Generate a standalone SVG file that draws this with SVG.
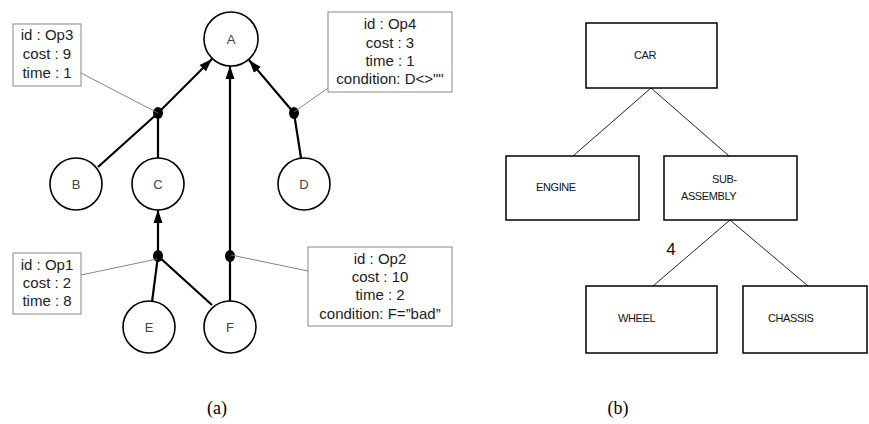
<svg xmlns="http://www.w3.org/2000/svg" width="869" height="424" viewBox="0 0 869 424">
<defs>
<marker id="arr" markerUnits="userSpaceOnUse" markerWidth="14" markerHeight="10" refX="13" refY="5" orient="auto">
<path d="M0,0.5 L13,5 L0,9.5 z" fill="#000"/>
</marker>
<style>
.node circle{fill:#fff;stroke:#000;stroke-width:1.6}
.node text{font-family:"Liberation Sans",Arial,sans-serif;font-size:13px;fill:#444;text-anchor:middle}
.edge{stroke:#000;stroke-width:2.2;fill:none}
.arrow{marker-end:url(#arr)}
.dot{fill:#000}
.note rect{fill:#fff;stroke:#888;stroke-width:1}
.note text{font-family:"Liberation Sans",Arial,sans-serif;font-size:15px;fill:#222;text-anchor:middle}
.tie{stroke:#777;stroke-width:0.9;fill:none}
.box rect{fill:#fff;stroke:#000;stroke-width:1.5}
.box text{font-family:"Liberation Sans",Arial,sans-serif;font-size:11px;fill:#111;letter-spacing:-0.4px}
.thin{stroke:#222;stroke-width:1;fill:none}
.cap{font-family:"Liberation Serif","Times New Roman",serif;font-size:18px;fill:#000;text-anchor:middle}
</style>
</defs>
<rect width="869" height="424" fill="#fff"/>

<g id="connectors">
<line class="edge arrow" x1="158" y1="113" x2="212" y2="59"/>
<line class="edge" x1="98" y1="167" x2="158" y2="113"/>
<line class="edge" x1="158" y1="158" x2="158" y2="113"/>
<line class="edge arrow" x1="294" y1="113" x2="249" y2="60"/>
<line class="edge" x1="301" y1="158" x2="294" y2="113"/>
<line class="edge arrow" x1="230" y1="301" x2="230" y2="66"/>
<line class="edge arrow" x1="158" y1="256" x2="158" y2="210"/>
<line class="edge" x1="152" y1="302" x2="158" y2="256"/>
<line class="edge" x1="212" y1="305" x2="158" y2="256"/>
<ellipse class="dot" cx="158" cy="113" rx="5" ry="6"/>
<ellipse class="dot" cx="294" cy="113" rx="5" ry="6"/>
<ellipse class="dot" cx="158" cy="256" rx="5" ry="6"/>
<ellipse class="dot" cx="230" cy="256" rx="5" ry="6"/>
<line class="tie" x1="81" y1="73" x2="158" y2="113"/>
<line class="tie" x1="328" y1="88" x2="294" y2="112"/>
<line class="tie" x1="81" y1="275" x2="157" y2="259"/>
<line class="tie" x1="308" y1="271" x2="231" y2="255"/>
<line class="thin" x1="651" y1="88" x2="573" y2="156"/>
<line class="thin" x1="651" y1="88" x2="729" y2="156"/>
<line class="thin" x1="730" y1="220" x2="653" y2="286"/>
<line class="thin" x1="730" y1="220" x2="808" y2="286"/>
</g>

<g id="A" class="node"><circle cx="231" cy="39" r="27"/><text x="231" y="44">A</text></g>
<g id="B" class="node"><circle cx="76" cy="184" r="26"/><text x="76" y="189">B</text></g>
<g id="C" class="node"><circle cx="158" cy="184" r="26"/><text x="158" y="189">C</text></g>
<g id="D" class="node"><circle cx="304" cy="184" r="26"/><text x="304" y="189">D</text></g>
<g id="E" class="node"><circle cx="149" cy="327" r="26"/><text x="149" y="332">E</text></g>
<g id="F" class="node"><circle cx="230" cy="327" r="26"/><text x="230" y="332">F</text></g>

<g id="Op3" class="note"><rect x="13" y="24" width="68" height="62"/>
<text x="47" y="40">id : Op3</text><text x="47" y="59">cost : 9</text><text x="47" y="78">time : 1</text></g>
<g id="Op4" class="note"><rect x="328" y="12" width="124" height="80"/>
<text x="390" y="29">id : Op4</text><text x="390" y="48">cost : 3</text><text x="390" y="66">time : 1</text><text x="390" y="84">condition: D&lt;&gt;""</text></g>
<g id="Op1" class="note"><rect x="13" y="253" width="68" height="61"/>
<text x="47" y="270">id : Op1</text><text x="47" y="288">cost : 2</text><text x="47" y="306">time : 8</text></g>
<g id="Op2" class="note"><rect x="308" y="247" width="144" height="79"/>
<text x="380" y="264">id : Op2</text><text x="380" y="282">cost : 10</text><text x="380" y="300">time : 2</text><text x="380" y="319">condition: F=”bad”</text></g>

<g id="CAR" class="box"><rect x="586" y="23" width="131" height="65"/><text x="634" y="59">CAR</text></g>
<g id="ENGINE" class="box"><rect x="506" y="156" width="133" height="64"/><text x="536" y="191">ENGINE</text></g>
<g id="SUBASSEMBLY" class="box"><rect x="664" y="156" width="133" height="64"/><text x="712" y="183">SUB-</text><text x="681" y="200">ASSEMBLY</text></g>
<g id="WHEEL" class="box"><rect x="586" y="286" width="131" height="67"/><text x="618" y="322">WHEEL</text></g>
<g id="CHASSIS" class="box"><rect x="743" y="286" width="124" height="67"/><text x="768" y="322">CHASSIS</text></g>
<text x="671" y="255" style="font-family:'Liberation Sans Narrow','Liberation Sans',Arial,sans-serif;font-size:17px;fill:#111;text-anchor:middle">4</text>

<text class="cap" x="217" y="414">(a)</text>
<text class="cap" x="618" y="414">(b)</text>
</svg>
